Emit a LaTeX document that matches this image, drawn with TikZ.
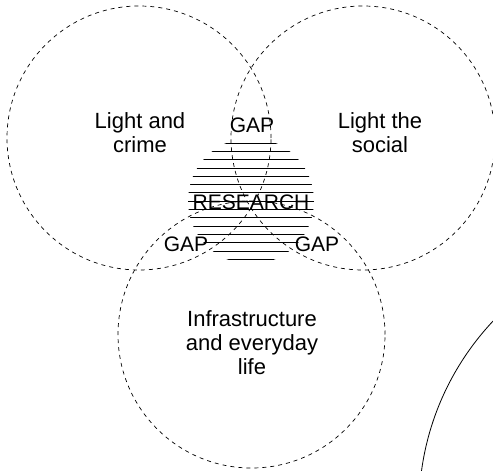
\documentclass[tikz,border=0pt]{standalone}
\usepackage{fontspec}
\setmainfont{Liberation Sans}
\usetikzlibrary{positioning}

\tikzset{
  set/.style={circle, draw, dash pattern=on 4pt off 4pt, line width=0.7pt, minimum size=264pt, inner sep=0pt},
  topic/.style={align=center, font=\fontsize{22}{24}\selectfont},
  gap/.style={font=\fontsize{21}{24}\selectfont, inner sep=1pt},
  hatch/.style={line width=0.8pt},
}

\begin{document}
\begin{tikzpicture}[x=1pt, y=-1pt]
\useasboundingbox (0,0) rectangle (493,471);

% the three sets
\node[set] (crime) at (139,138) {};
\node[set] (social) at (363,138) {};
\node[set, minimum size=267pt] (infra) at (251.5,334.5) {};

\node[topic] (lc) at (140,133) {Light and\\crime};
\node[topic] (ls) at (380,133) {Light the\\social};
\node[topic] (ie) at (252,343) {Infrastructure\\and everyday\\life};

% research core, hatched
\coordinate (core) at (251,201);
\begin{scope}
\clip (core) circle (63pt);
\foreach \k in {0,...,14}
  \draw[hatch] (180,143+8.3*\k) -- (320,143+8.3*\k);
\end{scope}

\node[gap] (gtop) at (252,125) {GAP};
\node[gap] (res) at (251,202) {RESEARCH};
\node[gap] (gleft) at (186,244) {GAP};
\node[gap] (gright) at (317,244) {GAP};

% big arc at the corner
\begin{scope}
\clip (0,0) rectangle (493,471);
\draw[line width=0.8pt] (692,508) circle (273pt);
\end{scope}
\end{tikzpicture}
\end{document}
